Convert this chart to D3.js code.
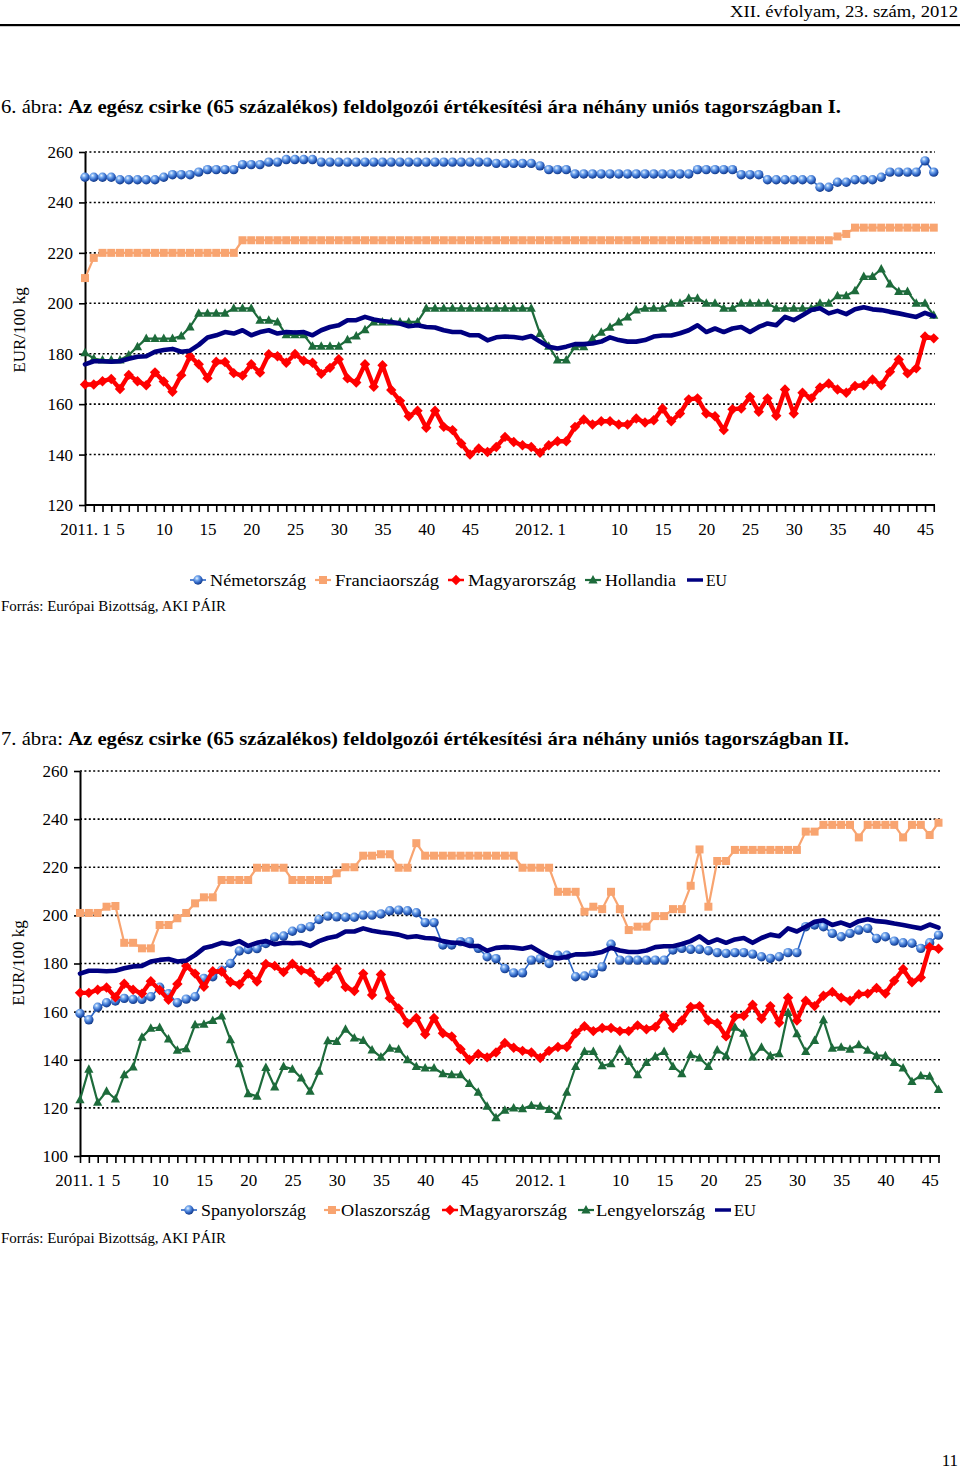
<!DOCTYPE html>
<html><head><meta charset="utf-8">
<script src="https://cdn.jsdelivr.net/npm/d3@7"></script>
<style>
body{margin:0;background:#fff;}
svg{display:block;font-family:"Liberation Serif","Times New Roman",serif;}
</style></head><body>
<svg id="page" width="960" height="1469"></svg>
<script>
// ---------- categories (weeks) ----------
const weeks = [];
for (let w = 1; w <= 52; w++) weeks.push("2011. " + w);
for (let w = 1; w <= 46; w++) weeks.push("2012. " + w);

const tickCats  = ["2011. 1","2011. 5","2011. 10","2011. 15","2011. 20","2011. 25","2011. 30","2011. 35","2011. 40","2011. 45",
                   "2012. 1","2012. 10","2012. 15","2012. 20","2012. 25","2012. 30","2012. 35","2012. 40","2012. 45"];
const tickTexts = ["2011. 1","5","10","15","20","25","30","35","40","45",
                   "2012. 1","10","15","20","25","30","35","40","45"];

const yTicks1 = [120,140,160,180,200,220,240,260];
const yTicks2 = [100,120,140,160,180,200,220,240,260];

// ---------- series, chart 6 ----------
const nemetorszag = [250,250,250,250,249,249,249,249,249,250,251,251,251,252,253,253,253,253,255,255,255,256,256,257,257,257,257,
 256,256,256,256,256,256,256,256,256,256,256,256,256,256,256,256,256,256,256,256,
 255.5,255.5,255.5,255.5,255.5,254.5,253,253,253,
 251.3,251.3,251.3,251.3,251.3,251.3,251.3,251.3,251.3,251.3,251.3,251.3,251.3,251.3,
 253,253,253,253,253,251,251,251,249,249,249,249,249,249,246,246,248,248,249,249,249,250,252,252,252,252,256.5,252];

const franciaorszag = [210,218,220,220,220,220,220,220,220,220,220,220,220,220,220,220,220,220,
 225,225,225,225,225,225,225,225,225,225,225,225,225,225,225,225,225,225,225,225,225,225,225,225,225,225,225,225,225,225,
 225,225,225,225,225,225,225,225,225,225,225,225,225,225,225,225,225,225,225,225,225,225,225,225,225,225,225,225,225,225,
 225,225,225,225,225,225,225,225,226.5,227.5,230,230,230,230,230,230,230,230,230,230];

const magyarorszag = [167.8,167.8,169.1,170,166,171.6,169.1,167.5,172.6,169,
 164.9,171.5,179,175.8,170.3,176.8,176.7,172.3,171.3,175.8,
 172.5,179.8,179,176.4,179.9,177.2,176.4,172,174.4,177.8,
 170.2,168.6,175.8,166.9,175.4,165.6,161.3,155.2,157.4,150.6,
 157.4,151,149.7,144.4,140,142.4,141,143,147,145,
 143.7,143,140.7,143.7,145.3,145.3,151,153.9,151.9,153.2,
 153.2,151.9,151.9,154.3,152.7,153.6,158.3,153.2,156.3,161.9,
 162.3,156.3,155.2,149.7,158,158.3,162.9,157,162.3,155.4,
 165.8,156.3,164.5,162.3,166.6,168.2,165.8,164.5,167.2,167.5,
 169.8,167.5,172.8,177.7,172.2,174.2,186.8,186.1];

const hollandia = [180.4,178.1,177.5,177.5,177.5,179.5,182.8,186,186,186,
 186,187,190.6,196,196,196,196,198,198,198,
 193.3,193.3,192.6,187.5,187.5,187.5,183,183,183,183,
 185.5,187,189.5,192.6,192.6,192.6,192.6,192.6,192.6,198,
 198,198,198,198,198,198,198,198,198,198,
 198,198,188,183,177.5,177.5,182.8,182.8,186,188.5,
 190.5,192.6,194.6,197.3,198,198,198,200,200,202,
 202,200,200,198,198,200,200,200,200,198,
 198,198,198,198,200,200,203,203,205,210.6,
 210.6,213.6,207.6,204.7,204.7,200,200,195.3];

const eu = [175.8,177,177,176.8,177,178,178.8,179,180.8,181.5,
 181.9,180.8,181.2,183.5,186.4,187.3,188.6,188,189.3,187.3,
 188.6,189.3,188,188.6,188.4,188.6,187.3,189.3,190.6,191.3,
 193.3,193.3,194.6,193.6,193,192.6,192,190.9,191.3,190.6,
 190.4,189.3,188.6,188.6,187.3,187.3,185.3,186.5,186.8,186.6,
 186.1,187,184.8,182.8,182.1,182.8,183.8,183.8,184.1,184.8,
 186.5,185.4,184.8,184.8,185.4,186.8,187.2,187.2,188.1,189.3,
 191.3,188.6,190,188.6,190,190.6,188.6,190.6,192,191.3,
 194.6,193.3,195.3,197.3,198,196,197,195.7,197.6,198.4,
 197.6,197.3,196.6,196,195.3,194.6,196.2,194.9];

// ---------- series, chart 7 ----------
const spanyolorszag = [159.2,156.6,161.8,163.7,164.4,165.5,165.1,165.1,166.2,170.1,
 167.4,163.7,165.2,166.2,173.8,174.5,177.2,180,185.2,185.8,
 186.2,188.3,191,191.4,193.4,194.6,195.3,198.3,199.7,199.4,
 199.2,199.2,200.1,200.1,200.6,201.9,202.2,201.9,201.1,197,
 197,187.7,187.7,189.1,189.1,186.3,182.8,182,177.9,176.1,
 176.1,181.4,182,180,183.4,183.4,174.5,174.8,175.9,178.6,
 188,181.4,181.4,181.4,181.4,181.4,181.4,185.6,186.3,185.9,
 185.9,185.3,184.5,184.2,184.5,184.5,183.9,182.8,182.1,182.8,
 184.5,184.5,195.3,196,195.3,192.5,191.1,192.5,193.9,194.6,
 190.4,191.1,189.3,188.6,188.4,186.3,188.6,191.8];

const olaszorszag = [201,201,201,203.6,203.9,188.6,188.6,186.3,186.3,196,
 196,198.8,201,205,207.5,207.5,214.7,214.7,214.7,214.7,
 219.8,219.8,219.8,219.8,214.7,214.7,214.7,214.7,214.7,217.5,
 220,220,224.8,224.8,225.4,225.4,219.8,219.8,230,224.8,
 224.8,224.8,224.8,224.8,224.8,224.8,224.8,224.8,224.8,224.8,
 219.8,219.8,219.8,219.8,209.8,209.8,209.8,201.5,203.6,202.6,
 209.8,202.6,193.9,195.3,195.3,199.7,199.7,202.6,202.6,212.3,
 227.4,203.6,222.6,222.6,227.2,227.2,227.2,227.2,227.2,227.2,
 227.2,227.2,234.8,234.8,237.6,237.6,237.6,237.6,232.4,237.6,
 237.6,237.6,237.6,232.4,237.6,237.6,233.4,238.5];

const lengyelorszag = [123.4,136.1,122.3,126.9,123.7,133.8,137,149.4,153.1,153.4,
 148.6,143.9,144.6,154.5,154.8,156.3,158.2,148.3,138.3,125.9,
 124.8,136.8,128.7,137.2,136.1,132.4,126.9,135.2,147.9,147.6,
 152.7,149,148,144.1,141.1,144.8,144.4,140,137.2,136.6,
 136.6,134.2,133.8,133.8,130.1,126.5,120.7,115.9,119,120,
 119.6,121,120.7,119.3,116.6,126.5,137.2,143.4,143.4,137.5,
 138.3,144.4,139.3,133.8,138.9,141.4,143.4,137.2,134.2,142.1,
 140.7,137.2,144.1,141.7,153.5,151,141.1,145.2,141.7,142.5,
 159.6,150.8,143.4,148,156.6,144.8,145.2,144.4,146.2,143.9,
 141.7,141.7,138.9,136.6,131,133.4,133.1,127.6];

// ---------- styles ----------
const ST = {
  sphere:  {color:"#2a64c4", width:1.6, marker:"sphere"},
  square:  {color:"#f8a470", width:2.2, marker:"square"},
  diamond: {color:"#ff0000", width:4.4, marker:"diamond"},
  tri:     {color:"#1d6b3b", width:2.2, marker:"tri"},
  eu:      {color:"#000080", width:4.6, marker:null}
};

const svg = d3.select("#page");
svg.append("rect").attr("width",960).attr("height",1469).attr("fill","#fff");
const defs = svg.append("defs");
const grad = defs.append("radialGradient").attr("id","sph").attr("cx","38%").attr("cy","32%").attr("r","68%");
grad.append("stop").attr("offset","0%").attr("stop-color","#eaf3ff");
grad.append("stop").attr("offset","30%").attr("stop-color","#79acef");
grad.append("stop").attr("offset","70%").attr("stop-color","#2d62c2");
grad.append("stop").attr("offset","100%").attr("stop-color","#143a85");

function drawMarker(g, type, x, y, color) {
  if (type === "sphere") {
    g.append("circle").attr("cx",x).attr("cy",y).attr("r",4.7).attr("fill","url(#sph)");
  } else if (type === "square") {
    g.append("rect").attr("x",x-4).attr("y",y-4).attr("width",8).attr("height",8).attr("fill",color);
  } else if (type === "diamond") {
    g.append("path").attr("d",`M${x},${y-5.2}L${x+5.2},${y}L${x},${y+5.2}L${x-5.2},${y}Z`).attr("fill",color);
  } else if (type === "tri") {
    g.append("path").attr("d",`M${x},${y-5}L${x+4.6},${y+3.5}L${x-4.6},${y+3.5}Z`).attr("fill",color);
  }
}

// ---------- header ----------
svg.append("text").attr("x",730).attr("y",17).attr("font-size",17).attr("textLength",228)
  .attr("lengthAdjust","spacingAndGlyphs").text("XII. évfolyam, 23. szám, 2012");
svg.append("rect").attr("x",0).attr("y",24).attr("width",960).attr("height",2.2).attr("fill","#000");

function title(y, num, roman, len) {
  const t = svg.append("text").attr("x",1).attr("y",y).attr("font-size",19.5)
    .attr("textLength",len).attr("lengthAdjust","spacingAndGlyphs");
  t.append("tspan").text(num + ". ábra: ");
  t.append("tspan").attr("font-weight","bold")
    .text("Az egész csirke (65 százalékos) feldolgozói értékesítési ára néhány uniós tagországban " + roman + ".");
}
title(113, 6, "I", 840);
title(745, 7, "II", 848);

function drawChart(cfg) {
  const g = svg.append("g");
  const x = d3.scalePoint().domain(weeks).range([cfg.left, cfg.lastX]);
  const y = d3.scaleLinear().domain([cfg.yTicks[0], cfg.yTicks[cfg.yTicks.length-1]]).range([cfg.bottom, cfg.top]);

  // gridlines
  g.append("g").selectAll("line").data(cfg.yTicks.slice(1)).join("line")
    .attr("x1",cfg.left).attr("x2",cfg.gridRight)
    .attr("y1",d=>y(d)).attr("y2",d=>y(d))
    .attr("stroke","#000").attr("stroke-width",1.6).attr("stroke-dasharray","2,2.4");

  // y axis
  const ya = g.append("g").attr("transform",`translate(${cfg.left},0)`)
    .call(d3.axisLeft(y).tickValues(cfg.yTicks).tickSizeInner(6).tickSizeOuter(0).tickPadding(6).tickFormat(d3.format("d")));
  ya.select(".domain").attr("stroke","#000").attr("stroke-width",2);
  ya.selectAll(".tick line").attr("stroke","#000").attr("stroke-width",1.6);
  ya.selectAll(".tick text").attr("font-size",17).attr("font-family","Liberation Serif").attr("fill","#000");

  // x axis
  const lab = new Map(tickCats.map((c,i)=>[c,tickTexts[i]]));
  const xa = g.append("g").attr("transform",`translate(0,${cfg.bottom})`)
    .call(d3.axisBottom(x).tickValues(weeks).tickSizeInner(7).tickSizeOuter(0).tickPadding(11)
      .tickFormat(d => lab.has(d) ? lab.get(d) : ""));
  xa.select(".domain").remove();
  xa.append("line").attr("x1",cfg.left).attr("x2",cfg.gridRight).attr("y1",0).attr("y2",0)
    .attr("stroke","#000").attr("stroke-width",2);
  xa.selectAll(".tick line").attr("stroke","#000").attr("stroke-width",1.6);
  xa.selectAll(".tick text").attr("font-size",17).attr("font-family","Liberation Serif").attr("fill","#000");

  // y label
  g.append("text").attr("transform",`translate(${cfg.ylabX},${cfg.ylabY}) rotate(-90)`)
    .attr("text-anchor","middle").attr("font-size",17).text("EUR/100 kg");

  // series
  const line = d3.line().x((d,i)=>x(weeks[i])).y(d=>y(d));
  cfg.series.forEach(s => {
    const st = ST[s.style];
    const sg = g.append("g");
    sg.append("path").datum(s.values).attr("d",line).attr("fill","none")
      .attr("stroke",st.color).attr("stroke-width",st.width)
      .attr("stroke-linejoin","round").attr("stroke-linecap","round");
    if (st.marker) s.values.forEach((v,i)=>drawMarker(sg, st.marker, x(weeks[i]), y(v), st.color));
  });

  // legend
  const lg = g.append("g");
  cfg.series.forEach((s,k) => {
    const st = ST[s.style];
    const it = cfg.legend[k];
    const ly = cfg.legendY - 6;
    lg.append("line").attr("x1",it.mx-8).attr("x2",it.mx+8).attr("y1",ly).attr("y2",ly)
      .attr("stroke",st.color).attr("stroke-width",st.marker ? Math.min(st.width,2.5) : 3.5);
    if (st.marker) drawMarker(lg, st.marker, it.mx, ly, st.color);
    lg.append("text").attr("x",it.tx).attr("y",cfg.legendY).attr("font-size",17)
      .attr("textLength",it.tw).attr("lengthAdjust","spacingAndGlyphs").text(s.name);
  });

  svg.append("text").attr("x",1).attr("y",cfg.srcY).attr("font-size",14.5)
    .attr("textLength",225).attr("lengthAdjust","spacingAndGlyphs").text("Forrás: Európai Bizottság, AKI PÁIR");
}

drawChart({
  left:85, lastX:933.75, gridRight:935, top:152, bottom:505, yTicks:yTicks1,
  ylabX:25, ylabY:330, legendY:586, srcY:611,
  series:[
    {name:"Németország", values:nemetorszag, style:"sphere"},
    {name:"Franciaország", values:franciaorszag, style:"square"},
    {name:"Magyarország", values:magyarorszag, style:"diamond"},
    {name:"Hollandia", values:hollandia, style:"tri"},
    {name:"EU", values:eu, style:"eu"}
  ],
  legend:[{mx:198,tx:210,tw:96},{mx:323,tx:335,tw:104},{mx:456,tx:468,tw:108},{mx:593,tx:605,tw:71},{mx:695,tx:706,tw:21}]
});

drawChart({
  left:80, lastX:938.5, gridRight:940, top:771, bottom:1156, yTicks:yTicks2,
  ylabX:24, ylabY:963, legendY:1216, srcY:1243,
  series:[
    {name:"Spanyolország", values:spanyolorszag, style:"sphere"},
    {name:"Olaszország", values:olaszorszag, style:"square"},
    {name:"Magyarország", values:magyarorszag, style:"diamond"},
    {name:"Lengyelország", values:lengyelorszag, style:"tri"},
    {name:"EU", values:eu, style:"eu"}
  ],
  legend:[{mx:189,tx:201,tw:105},{mx:332,tx:341,tw:89},{mx:450,tx:459,tw:108},{mx:586,tx:596,tw:109},{mx:723,tx:734,tw:22}]
});

svg.append("text").attr("x",958).attr("y",1466).attr("text-anchor","end").attr("font-size",17).text("11");
</script>
</body></html>
